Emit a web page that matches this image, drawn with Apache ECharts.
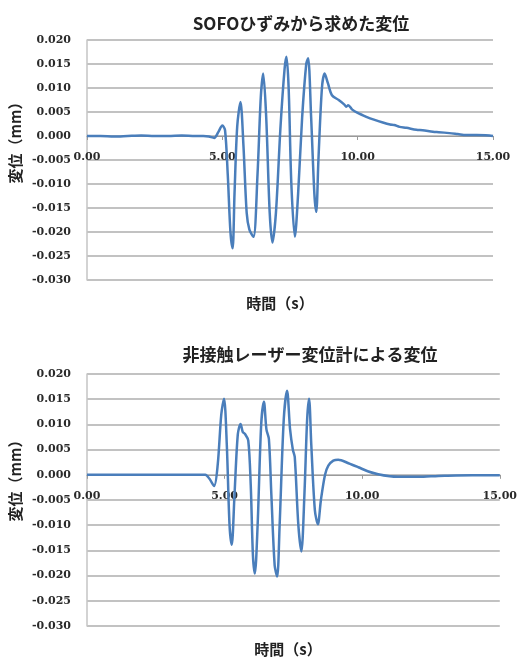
<!DOCTYPE html>
<html>
<head>
<meta charset="utf-8">
<script src="https://cdn.jsdelivr.net/npm/echarts@6/dist/echarts.min.js"></script>
<style>
  html, body { margin: 0; padding: 0; background: #ffffff; }
  #chart { width: 520px; height: 658px; }
</style>
</head>
<body>
<div id="chart"></div>
<script>
// Displacement derived from SOFO strain (upper panel)
const sofoTime = [0.00, 0.50, 1.00, 1.50, 2.00, 2.50, 3.00, 3.50, 4.00, 4.30, 4.50, 4.70, 4.85, 5.00, 5.10, 5.20, 5.30, 5.38, 5.45, 5.55, 5.67, 5.78, 5.90, 6.00, 6.15, 6.30, 6.42, 6.51, 6.62, 6.75, 6.85, 6.98, 7.15, 7.30, 7.37, 7.45, 7.55, 7.68, 7.80, 7.95, 8.10, 8.17, 8.28, 8.40, 8.47, 8.55, 8.68, 8.78, 8.90, 9.05, 9.30, 9.50, 9.58, 9.65, 9.80, 10.00, 10.32, 10.60, 10.93, 11.20, 11.35, 11.55, 11.80, 12.17, 12.40, 12.78, 13.00, 13.39, 13.70, 14.01, 14.40, 14.87, 15.00];
const sofoDisp = [0.0000, 0.0000, -0.0001, 0.0000, 0.0001, 0.0000, 0.0000, 0.0001, 0.0000, 0.0000, -0.0001, -0.0004, 0.0008, 0.0022, 0.0012, -0.0080, -0.0200, -0.0234, -0.0120, 0.0020, 0.0071, -0.0020, -0.0160, -0.0195, -0.0210, -0.0080, 0.0080, 0.0130, 0.0040, -0.0160, -0.0222, -0.0160, 0.0020, 0.0140, 0.0165, 0.0100, -0.0100, -0.0210, -0.0120, 0.0040, 0.0150, 0.0162, 0.0040, -0.0120, -0.0158, -0.0050, 0.0100, 0.0130, 0.0110, 0.0085, 0.0075, 0.0066, 0.0061, 0.0064, 0.0055, 0.0048, 0.0040, 0.0034, 0.0028, 0.0024, 0.0023, 0.0019, 0.0017, 0.0013, 0.0012, 0.0009, 0.0008, 0.0006, 0.0004, 0.0002, 0.0002, 0.0001, 0.0000];

// Displacement measured by the non-contact laser sensor (lower panel)
const laserTime = [0.00, 1.00, 2.00, 3.00, 4.00, 4.30, 4.45, 4.62, 4.75, 4.88, 4.98, 5.08, 5.18, 5.26, 5.36, 5.48, 5.58, 5.66, 5.74, 5.86, 5.95, 6.03, 6.10, 6.20, 6.33, 6.43, 6.52, 6.61, 6.70, 6.82, 6.91, 7.00, 7.15, 7.27, 7.38, 7.48, 7.55, 7.68, 7.79, 7.90, 8.00, 8.07, 8.15, 8.28, 8.39, 8.50, 8.65, 8.77, 8.95, 9.13, 9.50, 9.86, 10.20, 10.58, 11.00, 11.30, 12.00, 12.50, 13.00, 14.00, 15.00];
const laserDisp = [0.0000, 0.0000, 0.0000, 0.0000, 0.0000, 0.0000, -0.0008, -0.0022, 0.0020, 0.0120, 0.0151, 0.0060, -0.0100, -0.0139, -0.0040, 0.0080, 0.0101, 0.0085, 0.0081, 0.0068, -0.0020, -0.0160, -0.0196, -0.0100, 0.0100, 0.0145, 0.0090, 0.0071, -0.0040, -0.0180, -0.0202, -0.0100, 0.0110, 0.0167, 0.0090, 0.0050, 0.0035, -0.0100, -0.0152, -0.0040, 0.0110, 0.0151, 0.0060, -0.0070, -0.0098, -0.0050, 0.0000, 0.0018, 0.0028, 0.0030, 0.0023, 0.0015, 0.0007, 0.0001, -0.0003, -0.0004, -0.0004, -0.0003, -0.0002, -0.0001, -0.0001];

// Axis ranges and labels
const timeRange = [0, 15, 5];
const dispRange = [-0.030, 0.020, 0.005];
const titles = ['SOFOひずみから求めた変位', '非接触レーザー変位計による変位'];
const xName = '時間（s）';
const yName = '変位（mm）';

const pair = (xs, ys) => xs.map((x, i) => [x, ys[i]]);

const tickFont = {
  color: '#2a2a2a',
  fontFamily: 'DejaVu Serif',
  fontWeight: 'bold',
  fontSize: 11
};
const gridLineColor = '#c2c2c2';
const lineColor = '#4a7ebb';
const jpFont = '"Noto Sans CJK JP", sans-serif';

const grids = [
  { left: 87, top: 40, width: 406, height: 240 },
  { left: 87, top: 374, width: 416, height: 252 }
];

// The time axis sits on the zero displacement line, labels included
function zeroOffset(grid) {
  return -grid.height * (0 - dispRange[0]) / (dispRange[1] - dispRange[0]);
}

function xAxisFor(gridIndex) {
  return {
    type: 'value',
    gridIndex,
    min: timeRange[0],
    max: timeRange[1],
    interval: timeRange[2],
    offset: zeroOffset(grids[gridIndex]),
    axisLine: { show: true, onZero: false, lineStyle: { color: '#9a9a9a', width: 1 } },
    axisTick: { show: true, length: 4, lineStyle: { color: '#9a9a9a' } },
    splitLine: { show: false },
    axisLabel: Object.assign({ margin: 16, formatter: v => v.toFixed(2) }, tickFont)
  };
}
function yAxisFor(gridIndex) {
  return {
    type: 'value',
    gridIndex,
    min: dispRange[0],
    max: dispRange[1],
    interval: dispRange[2],
    axisLine: { show: true, lineStyle: { color: '#c4c4c4', width: 1.5 } },
    axisTick: { show: false },
    splitLine: { show: true, lineStyle: { color: gridLineColor, width: 2 } },
    axisLabel: Object.assign({ margin: 16, formatter: v => v.toFixed(3) }, tickFont)
  };
}

const chart = echarts.init(document.getElementById('chart'), null, { renderer: 'canvas' });

function axisTitle(x, y, text, rot) {
  return {
    type: 'text',
    x, y,
    rotation: rot || 0,
    style: {
      text,
      fill: '#222',
      font: 'bold 15px ' + jpFont,
      textAlign: 'center',
      textVerticalAlign: 'middle'
    }
  };
}

chart.setOption({
  animation: false,
  backgroundColor: '#ffffff',
  title: [
    { text: titles[0], left: 296, top: 10, textAlign: 'center',
      textStyle: { fontFamily: jpFont, fontWeight: 'bold', fontSize: 17, color: '#222' } },
    { text: titles[1], left: 305, top: 341, textAlign: 'center',
      textStyle: { fontFamily: jpFont, fontWeight: 'bold', fontSize: 17, color: '#222' } }
  ],
  grid: grids,
  xAxis: [xAxisFor(0), xAxisFor(1)],
  yAxis: [yAxisFor(0), yAxisFor(1)],
  series: [
    {
      type: 'line', xAxisIndex: 0, yAxisIndex: 0,
      data: pair(sofoTime, sofoDisp),
      showSymbol: false, smooth: 0.3,
      lineStyle: { color: lineColor, width: 2.5 }
    },
    {
      type: 'line', xAxisIndex: 1, yAxisIndex: 1,
      data: pair(laserTime, laserDisp),
      showSymbol: false, smooth: 0.3,
      lineStyle: { color: lineColor, width: 2.5 }
    }
  ],
  graphic: [
    axisTitle(280, 303, xName),
    axisTitle(288, 649, xName),
    axisTitle(15, 139, yName, Math.PI / 2),
    axisTitle(15, 477, yName, Math.PI / 2)
  ]
});
</script>
</body>
</html>
